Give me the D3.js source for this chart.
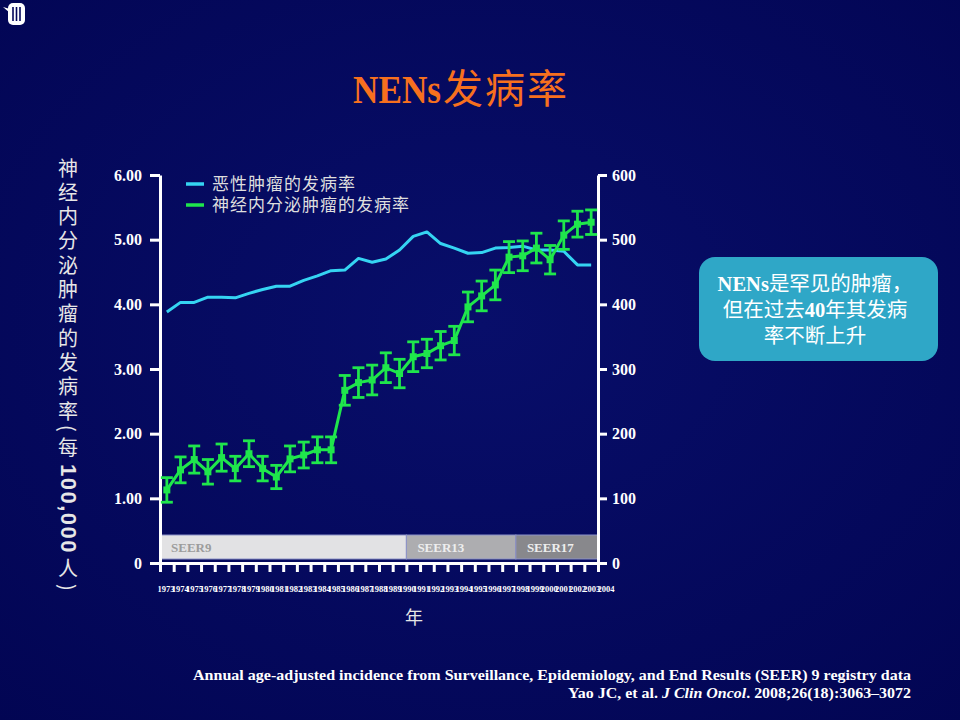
<!DOCTYPE html>
<html>
<head>
<meta charset="utf-8">
<script src="https://cdn.jsdelivr.net/npm/d3@7"></script>
<style>
    html, body {
        margin: 0;
        padding: 0;
        background: #03065a;
    }
    svg {
        display: block;
    }
</style>
</head>
<body>
<script>
// 年份
const years = [
    1973, 1974, 1975, 1976, 1977, 1978, 1979, 1980, 1981, 1982,
    1983, 1984, 1985, 1986, 1987, 1988, 1989, 1990, 1991, 1992,
    1993, 1994, 1995, 1996, 1997, 1998, 1999, 2000, 2001, 2002,
    2003, 2004
];

// 神经内分泌肿瘤的发病率（每100,000人，左轴）
const nenRate = [
    1.13, 1.44, 1.60, 1.41, 1.63, 1.46, 1.69, 1.46, 1.33, 1.61,
    1.67, 1.75, 1.75, 2.67, 2.79, 2.83, 3.02, 2.93, 3.19, 3.24,
    3.36, 3.44, 3.96, 4.13, 4.30, 4.73, 4.75, 4.87, 4.69, 5.07,
    5.24, 5.27
];

// 误差线半长
const nenError = [
    0.19, 0.20, 0.21, 0.19, 0.21, 0.19, 0.20, 0.19, 0.18, 0.20,
    0.20, 0.20, 0.20, 0.23, 0.23, 0.23, 0.23, 0.22, 0.23, 0.22,
    0.22, 0.22, 0.23, 0.23, 0.23, 0.24, 0.23, 0.23, 0.22, 0.22,
    0.20, 0.19
];

// 恶性肿瘤的发病率（右轴）
const malignantRate = [
    388, 403, 403, 411, 411, 410, 417, 423, 428, 428,
    437, 444, 452, 453, 471, 465, 470, 484, 505, 512,
    494, 487, 479, 480, 487, 488, 490, 484, 484, 482,
    461, 461
];

// 坐标轴刻度
const leftTicks = [0, 1, 2, 3, 4, 5, 6];
const rightTicks = [0, 100, 200, 300, 400, 500, 600];

// SEER 数据库分段
const seerNames = ['SEER9', 'SEER13', 'SEER17'];
const seerStart = [1973, 1991, 1999];
const seerEnd = [1990, 1998, 2004];

// 图例
const legendNames = ['恶性肿瘤的发病率', '神经内分泌肿瘤的发病率'];

// svg区域大小
const width = 960;
const height = 720;
const plot = {
    left: 160,
    right: 598,
    top: 175,
    bottom: 563
};

const cyan = '#35d4f2';
const green = '#1fe64c';
const serif = '"Liberation Serif", "Times New Roman", serif';
const cjk = '"Noto Sans CJK SC", "Noto Sans", sans-serif';

// 画svg区域
const svg = d3.select('body')
    .append('svg')
    .attr('width', width)
    .attr('height', height);

// 背景
const grad = svg.append('defs')
    .append('radialGradient')
    .attr('id', 'bg')
    .attr('cx', '50%')
    .attr('cy', '45%')
    .attr('r', '75%');
grad.append('stop').attr('offset', '0%').attr('stop-color', '#080e6a');
grad.append('stop').attr('offset', '100%').attr('stop-color', '#020553');
svg.append('rect')
    .attr('width', width)
    .attr('height', height)
    .attr('fill', 'url(#bg)');

// 比例尺
const x = d3.scaleBand()
    .domain(years)
    .range([plot.left, plot.right]);
const xEdge = d3.scaleLinear()
    .domain([years[0], years[years.length - 1] + 1])
    .range([plot.left, plot.right]);
const xLabel = d3.scalePoint()
    .domain(years)
    .range([166, 606]);
const yLeft = d3.scaleLinear()
    .domain([0, 6])
    .range([plot.bottom, plot.top]);
const yRight = d3.scaleLinear()
    .domain([0, 600])
    .range([plot.bottom, plot.top]);
const cx = d => x(d) + x.bandwidth() / 2;

drawIcon();
drawTitle();
drawSeer();
drawAxes();
drawLines();
drawLegend();
drawNote();
drawFooter();

/**
 * 左上角图标
 */
function drawIcon() {
    const g = svg.append('g');
    g.append('path')
        .attr('d', 'M3,7 L10,9 L10,13 Z')
        .attr('fill', '#fff');
    g.append('rect')
        .attr('x', 8)
        .attr('y', 3)
        .attr('width', 17)
        .attr('height', 22)
        .attr('rx', 5)
        .attr('fill', '#fff');
    g.selectAll('line')
        .data([13, 16.5, 20])
        .enter()
        .append('line')
        .attr('x1', d => d)
        .attr('x2', d => d)
        .attr('y1', 7)
        .attr('y2', 21)
        .attr('stroke', '#03065a')
        .attr('stroke-width', 1.6);
}

/**
 * 标题
 */
function drawTitle() {
    svg.append('text')
        .attr('x', 353)
        .attr('y', 103)
        .attr('fill', '#f7701e')
        .attr('font-family', serif)
        .attr('font-weight', 'bold')
        .attr('font-size', 40)
        .attr('textLength', 88)
        .attr('lengthAdjust', 'spacingAndGlyphs')
        .text('NENs');
    svg.append('text')
        .attr('x', 443)
        .attr('y', 103)
        .attr('fill', '#f7701e')
        .attr('font-family', cjk)
        .attr('font-size', 40)
        .attr('textLength', 124)
        .text('发病率');
}

/**
 * SEER 分段条
 */
function drawSeer() {
    const fills = ['#e2e2e4', '#adadb0', '#88888c'];
    const texts = ['#9c9c9c', '#eeeeee', '#eeeeee'];
    const g = svg.append('g');
    g.selectAll('rect')
        .data(seerNames)
        .enter()
        .append('rect')
        .attr('x', (d, i) => x(seerStart[i]))
        .attr('y', 535)
        .attr('width', (d, i) => x(seerEnd[i]) + x.bandwidth() - x(seerStart[i]))
        .attr('height', 24)
        .attr('fill', (d, i) => fills[i])
        .attr('stroke', '#8c92c8')
        .attr('stroke-width', 1);
    g.selectAll('text')
        .data(seerNames)
        .enter()
        .append('text')
        .attr('x', (d, i) => x(seerStart[i]) + 11)
        .attr('y', 552)
        .attr('fill', (d, i) => texts[i])
        .attr('font-family', serif)
        .attr('font-weight', 'bold')
        .attr('font-size', 13)
        .text(d => d);
}

/**
 * 坐标轴
 */
function drawAxes() {
    const leftAxis = d3.axisLeft(yLeft)
        .tickValues(leftTicks)
        .tickFormat(d => (d === 0 ? '0' : d3.format('.2f')(d)))
        .tickSize(10)
        .tickSizeOuter(0)
        .tickPadding(8);
    const rightAxis = d3.axisRight(yRight)
        .tickValues(rightTicks)
        .tickSize(9)
        .tickSizeOuter(0)
        .tickPadding(5);
    const bottomAxis = d3.axisBottom(xEdge)
        .tickValues(years.concat([years[years.length - 1] + 1]))
        .tickFormat('')
        .tickSize(9)
        .tickSizeOuter(0);

    const gl = svg.append('g')
        .attr('transform', `translate(${plot.left},0)`)
        .call(leftAxis);
    const gr = svg.append('g')
        .attr('transform', `translate(${plot.right},0)`)
        .call(rightAxis);
    const gb = svg.append('g')
        .attr('transform', `translate(0,${plot.bottom})`)
        .call(bottomAxis);

    [gl, gr, gb].forEach(g => {
        g.selectAll('.domain, line')
            .attr('stroke', '#fff')
            .attr('stroke-width', 3);
        g.selectAll('text')
            .attr('fill', '#fff')
            .attr('font-family', serif)
            .attr('font-weight', 'bold')
            .attr('font-size', 16);
    });

    // 年份标签（原图中彼此重叠）
    svg.append('g')
        .selectAll('text')
        .data(years)
        .enter()
        .append('text')
        .attr('x', d => xLabel(d))
        .attr('y', 592)
        .attr('text-anchor', 'middle')
        .attr('fill', '#fff')
        .attr('font-family', serif)
        .attr('font-weight', 'bold')
        .attr('font-size', 8.5)
        .text(d => d);

    // 横轴标题
    svg.append('text')
        .attr('x', 414)
        .attr('y', 624)
        .attr('text-anchor', 'middle')
        .attr('fill', '#e6e6e6')
        .attr('font-family', cjk)
        .attr('font-size', 18)
        .text('年');

    // 纵轴标题（竖排）
    const title = svg.append('text')
        .attr('x', 68)
        .attr('y', 158)
        .attr('fill', '#e6e6e6')
        .attr('font-family', cjk)
        .attr('font-size', 20)
        .style('writing-mode', 'vertical-rl');
    title.append('tspan')
        .attr('letter-spacing', 4.3)
        .text('神经内分泌肿瘤的发病率');
    title.append('tspan')
        .attr('letter-spacing', 6)
        .text('(每');
    title.append('tspan')
        .attr('font-family', '"Liberation Sans", Arial, sans-serif')
        .attr('font-weight', 'bold')
        .attr('font-size', 22)
        .attr('letter-spacing', 1.5)
        .text('100,000');
    title.append('tspan')
        .attr('dy', 4)
        .attr('letter-spacing', 6)
        .text('人)');
}

/**
 * 折线与误差线
 */
function drawLines() {
    const malignantLine = d3.line()
        .x((d, i) => cx(years[i]))
        .y(d => yRight(d));
    svg.append('path')
        .datum(malignantRate)
        .attr('fill', 'none')
        .attr('stroke', cyan)
        .attr('stroke-width', 3)
        .attr('stroke-linejoin', 'round')
        .attr('d', malignantLine);

    const nenLine = d3.line()
        .x((d, i) => cx(years[i]))
        .y(d => yLeft(d));
    svg.append('path')
        .datum(nenRate)
        .attr('fill', 'none')
        .attr('stroke', green)
        .attr('stroke-width', 3)
        .attr('d', nenLine);

    // 误差线
    const bars = svg.append('g')
        .selectAll('g')
        .data(nenRate)
        .enter()
        .append('g')
        .attr('stroke', green)
        .attr('stroke-width', 2.8);
    bars.append('line')
        .attr('x1', (d, i) => cx(years[i]))
        .attr('x2', (d, i) => cx(years[i]))
        .attr('y1', (d, i) => yLeft(d - nenError[i]))
        .attr('y2', (d, i) => yLeft(d + nenError[i]));
    [1, -1].forEach(s => {
        bars.append('line')
            .attr('x1', (d, i) => cx(years[i]) - 6)
            .attr('x2', (d, i) => cx(years[i]) + 6)
            .attr('y1', (d, i) => yLeft(d + s * nenError[i]))
            .attr('y2', (d, i) => yLeft(d + s * nenError[i]));
    });

    // 数据点
    svg.append('g')
        .selectAll('rect')
        .data(nenRate)
        .enter()
        .append('rect')
        .attr('x', (d, i) => cx(years[i]) - 3.5)
        .attr('y', d => yLeft(d) - 3.5)
        .attr('width', 7)
        .attr('height', 7)
        .attr('fill', green);
}

/**
 * 图例
 */
function drawLegend() {
    const g = svg.append('g')
        .selectAll('g')
        .data(legendNames)
        .enter()
        .append('g')
        .attr('transform', (d, i) => `translate(186,${184 + i * 21})`);
    g.append('line')
        .attr('x1', 0)
        .attr('x2', 18)
        .attr('stroke', (d, i) => (i === 0 ? cyan : green))
        .attr('stroke-width', 3.5);
    g.append('text')
        .attr('x', 26)
        .attr('y', 6)
        .attr('fill', '#dedede')
        .attr('font-family', cjk)
        .attr('font-size', 17)
        .attr('letter-spacing', 1)
        .text(d => d);
}

/**
 * 右侧说明框
 */
function drawNote() {
    svg.append('rect')
        .attr('x', 699)
        .attr('y', 257)
        .attr('width', 239)
        .attr('height', 104)
        .attr('rx', 16)
        .attr('fill', '#2fa7c7');
    const lines = [
        [['NENs', true], ['是罕见的肿瘤，', false]],
        [['但在过去', false], ['40', true], ['年其发病', false]],
        [['率不断上升', false]]
    ];
    lines.forEach((parts, i) => {
        const t = svg.append('text')
            .attr('x', 815)
            .attr('y', 291 + i * 26)
            .attr('text-anchor', 'middle')
            .attr('fill', '#fff')
            .attr('font-size', 20.5);
        parts.forEach(p => {
            t.append('tspan')
                .attr('font-family', p[1] ? serif : cjk)
                .attr('font-weight', p[1] ? 'bold' : 'normal')
                .text(p[0]);
        });
    });
}

/**
 * 页脚引用
 */
function drawFooter() {
    svg.append('text')
        .attr('x', 911)
        .attr('y', 680)
        .attr('text-anchor', 'end')
        .attr('fill', '#fff')
        .attr('font-family', serif)
        .attr('font-weight', 'bold')
        .attr('font-size', 15)
        .attr('textLength', 718)
        .attr('lengthAdjust', 'spacingAndGlyphs')
        .text('Annual age-adjusted incidence from Surveillance, Epidemiology, and End Results (SEER) 9 registry data');
    const t = svg.append('text')
        .attr('x', 911)
        .attr('y', 698)
        .attr('text-anchor', 'end')
        .attr('fill', '#fff')
        .attr('font-family', serif)
        .attr('font-weight', 'bold')
        .attr('font-size', 15)
        .attr('textLength', 343)
        .attr('lengthAdjust', 'spacingAndGlyphs');
    t.append('tspan').text('Yao JC, et al. ');
    t.append('tspan').attr('font-style', 'italic').text('J Clin Oncol');
    t.append('tspan').text('. 2008;26(18):3063–3072');
}
</script>
</body>
</html>
